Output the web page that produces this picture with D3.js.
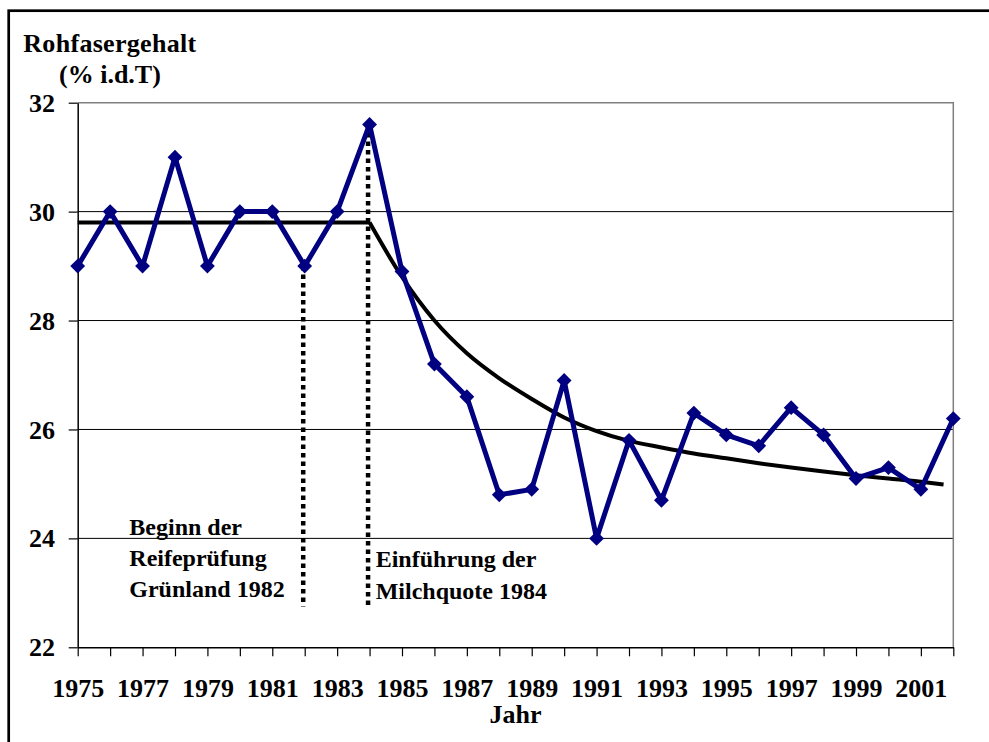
<!DOCTYPE html>
<html>
<head>
<meta charset="utf-8">
<script src="https://cdn.jsdelivr.net/npm/d3@7"></script>
<style>
    body { margin: 0; background: #fff; }
    svg text { font-family: "Liberation Serif", "Times New Roman", serif; font-weight: bold; fill: #000; }
</style>
</head>
<body>
<svg id="chart"></svg>
<script>
// data
const years = [1975, 1976, 1977, 1978, 1979, 1980, 1981, 1982, 1983, 1984, 1985, 1986, 1987, 1988,
    1989, 1990, 1991, 1992, 1993, 1994, 1995, 1996, 1997, 1998, 1999, 2000, 2001, 2002];
const rohfaser = [29, 30, 29, 31, 29, 30, 30, 29, 30, 31.6, 28.9, 27.2, 26.6, 24.8,
    24.9, 26.9, 24.0, 25.8, 24.7, 26.3, 25.9, 25.7, 26.4, 25.9, 25.1, 25.3, 24.9, 26.2];

// trend line (flat part, then decay)
const trendYears = [1975, 1984, 1985, 1986, 1987, 1988, 1989, 1990, 1991, 1992, 1993, 1994,
    1995, 1996, 1997, 1998, 1999, 2000, 2001, 2001.7];
const trendValues = [29.8, 29.8, 28.8, 28.0, 27.4, 26.94, 26.56, 26.22, 25.97, 25.79, 25.67, 25.56,
    25.47, 25.38, 25.30, 25.23, 25.16, 25.10, 25.04, 24.99];

const yTicks = [22, 24, 26, 28, 30, 32];
const xLabelYears = [1975, 1977, 1979, 1981, 1983, 1985, 1987, 1989, 1991, 1993, 1995, 1997, 1999, 2001];

const eventYears = [1982, 1984];
const eventBottom = 22.75;
const eventTexts = [
    ["Beginn der", "Reifeprüfung", "Grünland 1982"],
    ["Einführung der", "Milchquote 1984"]
];

const width = 989, height = 742;
const plot = { left: 77.7, right: 953.3, top: 102.7, bottom: 647.3 };

const svg = d3.select("#chart")
    .attr("width", width)
    .attr("height", height);

// outer frame (cut off at right / bottom)
svg.append("rect")
    .attr("x", 8.7).attr("y", 10.7)
    .attr("width", 1100).attr("height", 900)
    .attr("fill", "none")
    .attr("stroke", "#000")
    .attr("stroke-width", 2.7);

const xScale = d3.scaleLinear()
    .domain([1975, 2002])
    .range([plot.left, plot.right]);

const yScale = d3.scaleLinear()
    .domain([22, 32])
    .range([plot.bottom, plot.top]);

// gridlines
svg.append("g")
    .selectAll("line")
    .data(yTicks.filter(d => d > 22 && d < 32))
    .enter().append("line")
    .attr("x1", plot.left).attr("x2", plot.right)
    .attr("y1", d => yScale(d)).attr("y2", d => yScale(d))
    .attr("stroke", "#000")
    .attr("stroke-width", 1);

// plot area border top / right
svg.append("path")
    .attr("d", `M${plot.left},${plot.top}H${plot.right}V${plot.bottom}`)
    .attr("fill", "none")
    .attr("stroke", "#808080")
    .attr("stroke-width", 1.5);

// axes
const xAxis = svg.append("g")
    .attr("transform", `translate(0,${plot.bottom})`)
    .call(d3.axisBottom(xScale)
        .tickValues(years)
        .tickSize(9)
        .tickSizeOuter(0)
        .tickFormat(d => xLabelYears.includes(d) ? String(d) : ""));
xAxis.select(".domain").attr("stroke", "#000").attr("stroke-width", 1.5);
xAxis.selectAll(".tick line").attr("stroke", "#000").attr("stroke-width", 1.2);
xAxis.selectAll("text")
    .attr("y", 49.4)
    .attr("dy", null)
    .style("font-size", "26px");

const yAxis = svg.append("g")
    .attr("transform", `translate(${plot.left},0)`)
    .call(d3.axisLeft(yScale)
        .tickValues(yTicks)
        .tickSize(9)
        .tickSizeOuter(0)
        .tickFormat(d3.format("d")));
yAxis.select(".domain").attr("stroke", "#000").attr("stroke-width", 1.5);
yAxis.selectAll(".tick line").attr("stroke", "#000").attr("stroke-width", 1.2);
yAxis.selectAll("text")
    .attr("x", -22.7)
    .attr("dy", "0.33em")
    .style("font-size", "26px");

// titles
svg.append("text")
    .attr("x", 23.3).attr("y", 51.7)
    .style("font-size", "26px")
    .style("letter-spacing", "0.3px")
    .text("Rohfasergehalt");

svg.append("text")
    .attr("x", 59).attr("y", 83)
    .style("font-size", "26px")
    .text("(% i.d.T)");

svg.append("text")
    .attr("x", (plot.left + plot.right) / 2).attr("y", 723.3)
    .attr("text-anchor", "middle")
    .style("font-size", "26px")
    .text("Jahr");

// dotted event lines
svg.append("g")
    .selectAll("line")
    .data(eventYears)
    .enter().append("line")
    .attr("x1", d => xScale(d) - 1.5).attr("x2", d => xScale(d) - 1.5)
    .attr("y1", d => yScale(rohfaser[years.indexOf(d)]))
    .attr("y2", yScale(eventBottom))
    .attr("stroke", "#000")
    .attr("stroke-width", 4.5)
    .attr("stroke-dasharray", "4.5,4");

// trend line
const line = d3.line()
    .x(d => xScale(d[0]))
    .y(d => yScale(d[1]));

const trend = trendYears.map((y, i) => [y, trendValues[i]]);
svg.append("path")
    .attr("d", line.curve(d3.curveLinear)(trend.slice(0, 2)) + line.curve(d3.curveMonotoneX)(trend.slice(1)))
    .attr("fill", "none")
    .attr("stroke", "#000")
    .attr("stroke-width", 4)
    .attr("stroke-linejoin", "round");

// main series
const series = years.map((y, i) => [y, rohfaser[i]]);
svg.append("path")
    .attr("d", line.curve(d3.curveLinear)(series))
    .attr("fill", "none")
    .attr("stroke", "#000080")
    .attr("stroke-width", 5)
    .attr("stroke-linejoin", "round");

svg.append("g")
    .selectAll("path")
    .data(series)
    .enter().append("path")
    .attr("d", d3.symbol().type(d3.symbolSquare).size(110))
    .attr("transform", d => `translate(${xScale(d[0])},${yScale(d[1])}) rotate(45)`)
    .attr("fill", "#000080");

// annotations
const annoPos = [
    { x: 129.3, y: [535, 566, 597] },
    { x: 375.7, y: [567, 599] }
];
eventTexts.forEach((lines, k) => {
    lines.forEach((t, j) => {
        svg.append("text")
            .attr("x", annoPos[k].x)
            .attr("y", annoPos[k].y[j])
            .style("font-size", "24px")
            .text(t);
    });
});
</script>
</body>
</html>
